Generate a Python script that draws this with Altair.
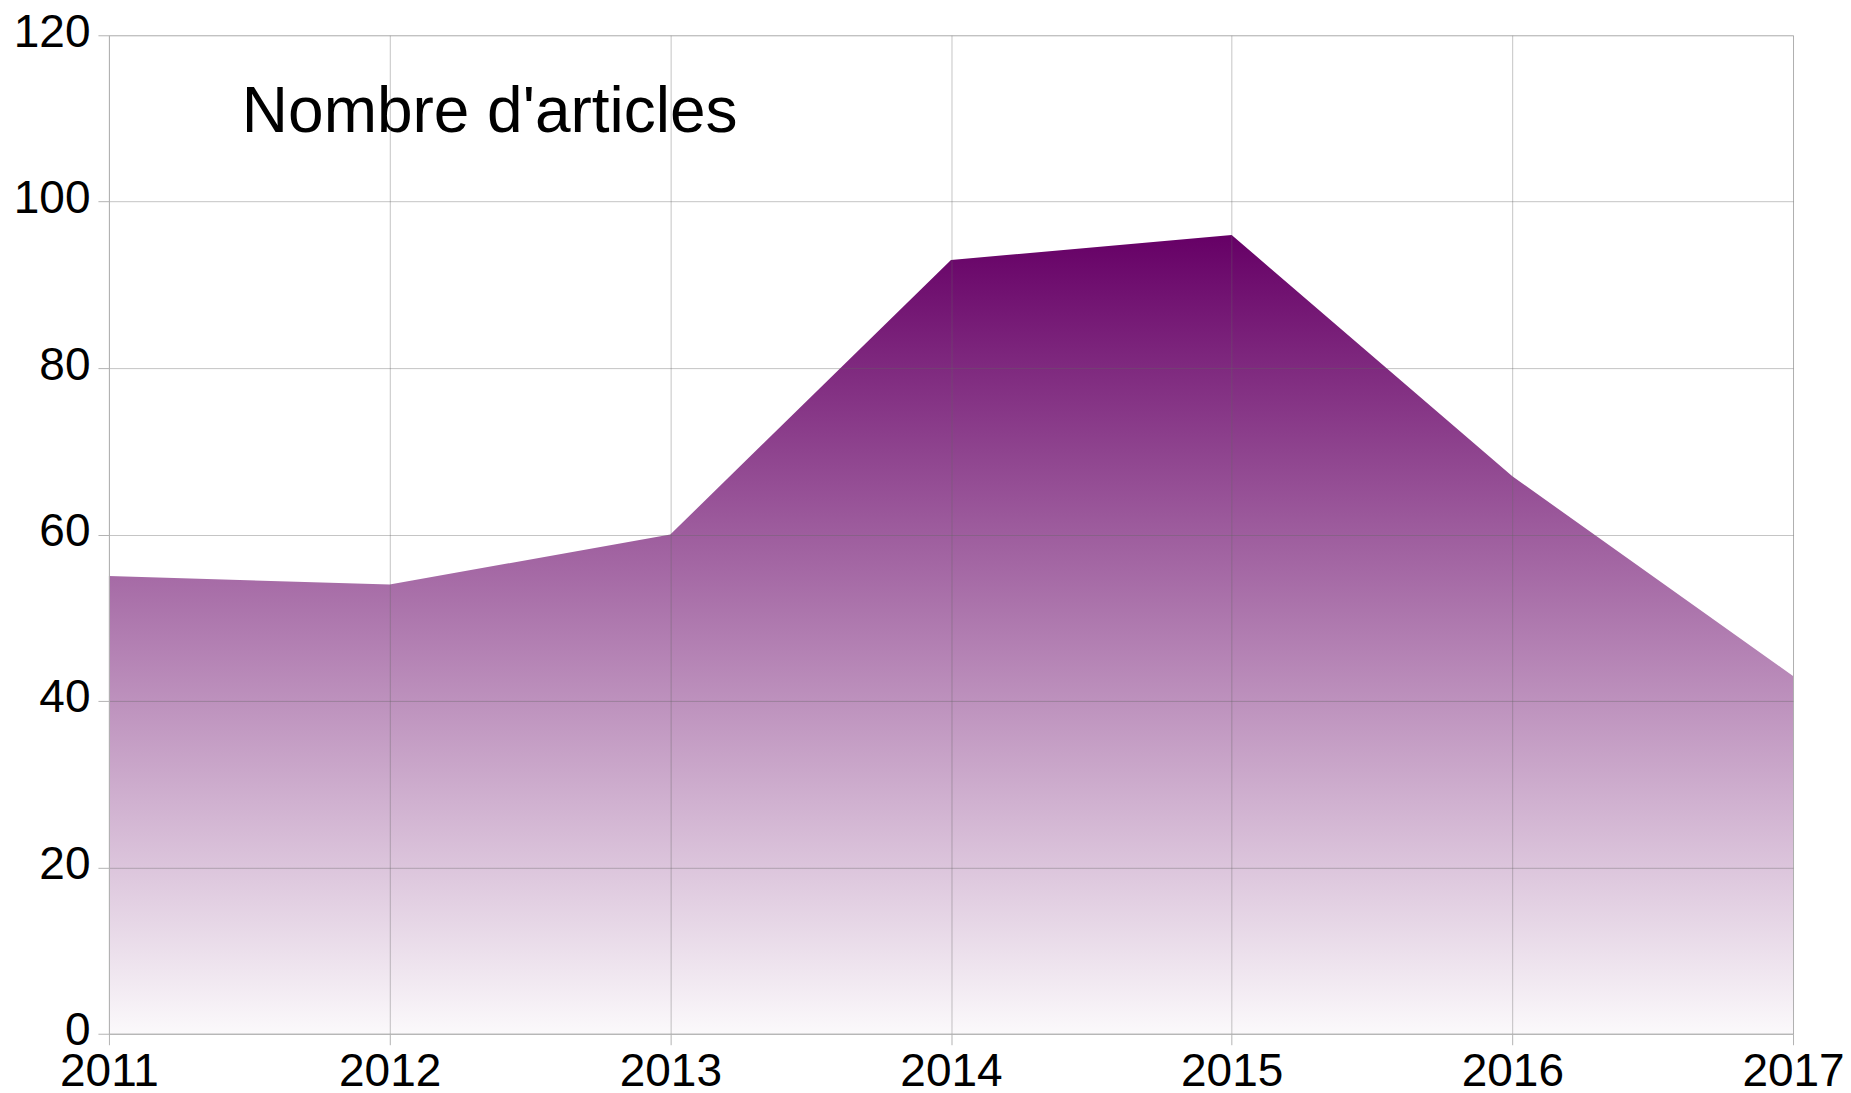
import altair as alt
import pandas as pd

years = [2011, 2012, 2013, 2014, 2015, 2016, 2017]
articles = [55, 54, 60, 93, 96, 67, 43]
y_ticks = [0, 20, 40, 60, 80, 100, 120]
series_label = "Nombre d'articles"

df = pd.DataFrame({"year": years, "articles": articles})

FONT = "Liberation Sans"

x_enc = alt.X(
    "year:Q",
    scale=alt.Scale(domain=[years[0], years[-1]], nice=False, zero=False),
    axis=alt.Axis(
        values=years, format="d", title=None,
        labelFont=FONT, labelFontSize=46, labelColor="#000000",
        labelFlush=False, labelOverlap=False,
        labelBaseline="alphabetic", labelPadding=41,
        tickSize=11, tickColor="#b3b3b3", domainColor="#b3b3b3",
        gridColor="#666666", gridOpacity=0.38, zindex=1,
    ),
)
y_enc = alt.Y(
    "articles:Q",
    scale=alt.Scale(domain=[y_ticks[0], y_ticks[-1]], nice=False),
    axis=alt.Axis(
        values=y_ticks, title=None,
        labelFont=FONT, labelFontSize=46, labelColor="#000000",
        labelFlush=False, labelOverlap=False,
        labelBaseline="alphabetic", labelOffset=11, labelPadding=8,
        tickSize=11, tickColor="#b3b3b3", domainColor="#b3b3b3",
        gridColor="#666666", gridOpacity=0.38, zindex=1,
    ),
)

area = alt.Chart(df).mark_area(
    color=alt.Gradient(
        gradient="linear",
        stops=[
            alt.GradientStop(color="#660066", offset=0),
            alt.GradientStop(color="#fbf9fb", offset=1),
        ],
        x1=0, x2=0, y1=0, y2=1,
    ),
    line=False,
).encode(x=x_enc, y=y_enc)

label = alt.Chart(pd.DataFrame({"t": [series_label]})).mark_text(
    font=FONT, fontSize=64, color="#000000", align="left", baseline="alphabetic"
).encode(text="t:N", x=alt.value(133), y=alt.value(97))

chart = (
    alt.layer(area, label)
    .properties(
        width=1685, height=999,
        autosize=alt.AutoSizeParams(type="none"),
        padding={"left": 101, "top": 27, "right": 50, "bottom": 58},
    )
    .configure_view(stroke=None)
    .configure(background="#ffffff")
)

chart.save("out.html", embed_options={"renderer": "svg", "actions": False})
